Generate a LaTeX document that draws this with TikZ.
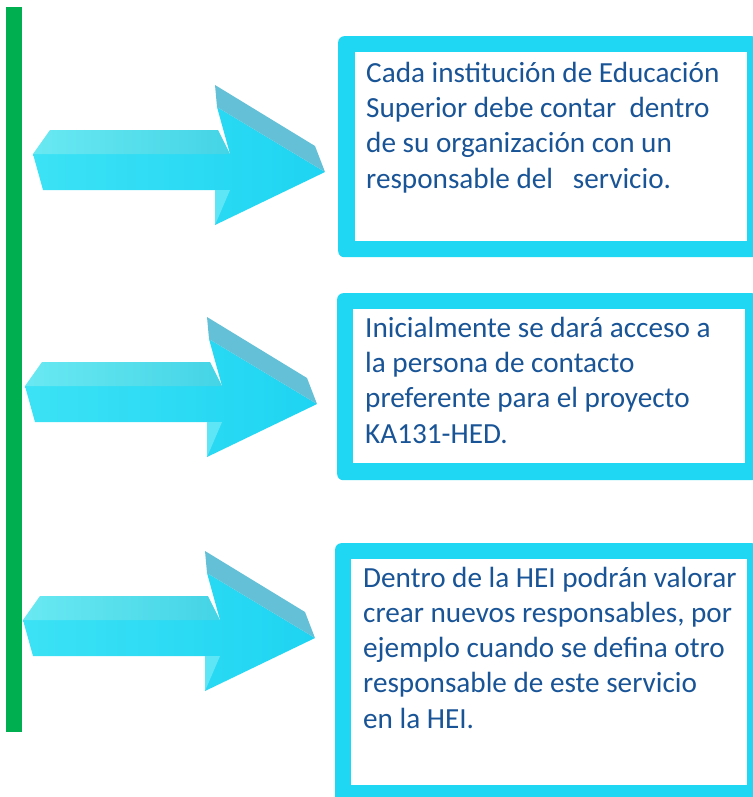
\documentclass[tikz,border=0pt]{standalone}
\usepackage{fontspec}
\setmainfont{Carlito}
\usetikzlibrary{positioning}
\definecolor{barcolor}{RGB}{0,176,80}
\definecolor{boxcolor}{RGB}{31,214,243}
\definecolor{notecolor}{RGB}{25,84,150}
\definecolor{frontlight}{RGB}{60,226,245}
\definecolor{frontdark}{RGB}{30,212,242}
\definecolor{toplight}{RGB}{105,233,242}
\definecolor{topdark}{RGB}{68,212,230}
\definecolor{headtop}{RGB}{100,192,214}
\definecolor{notchcolor}{RGB}{95,230,246}

% 3D arrow, #1/#2 = left tip
\newcommand{\fatarrow}[2]{%
  \begin{scope}[shift={(#1,#2)}]
    \shade[left color=frontlight, right color=frontdark]
      (0,0) -- (197,0) -- (184,-47) -- (292,18) -- (182,71) -- (182,36) -- (10,36) -- cycle;
    \shade[left color=toplight, right color=topdark]
      (0,0) -- (17,-24) -- (185,-24) -- (197,0) -- cycle;
    \fill[headtop] (182,-69) -- (282,-8) -- (292,18) -- (184,-47) -- cycle;
    \fill[notchcolor] (182,36) -- (197,36) -- (182,71) -- cycle;
  \end{scope}}

\begin{document}
\begin{tikzpicture}[
    x=1pt, y=-1pt,
    panel/.style={fill=boxcolor, rounded corners=6pt, anchor=north west, inner sep=0pt},
    inside/.style={fill=white, anchor=north west, inner sep=0pt},
    note/.style={anchor=base west, align=left, inner sep=0pt, text=notecolor,
      font=\fontsize{29.2}{35.2}\selectfont}
]
    \useasboundingbox (0,0) rectangle (752,797);

    % Bar
    \fill[barcolor] (6,7) rectangle (22,732);

    % Arrows
    \fatarrow{33}{154}
    \fatarrow{25}{386}
    \fatarrow{23}{620}

    % Boxes (text placed at its last baseline)
    \node[panel, minimum width=420pt, minimum height=221pt] (b1) at (338,36) {};
    \node[inside, minimum width=392pt, minimum height=189pt] (w1) at (355,52) {};
    \node[note] (t1) at (366,188) {Cada institución de Educación\\Superior debe contar\ \ dentro\\de su organización con un\\responsable del\ \ \ servicio.};

    \node[panel, minimum width=421pt, minimum height=187pt] (b2) at (337,293) {};
    \node[inside, minimum width=392pt, minimum height=154pt] (w2) at (353,309) {};
    \node[note] (t2) at (365,443) {Inicialmente se dará acceso a\\la persona de contacto\\preferente para el proyecto\\KA131-HED.};

    \node[panel, minimum width=423pt, minimum height=270pt] (b3) at (335,543) {};
    \node[inside, minimum width=396pt, minimum height=226pt] (w3) at (351,559) {};
    \node[note] (t3) at (363,728) {Dentro de la HEI podrán valorar\\crear nuevos responsables, por\\ejemplo cuando se defina otro\\responsable de este servicio\\en la HEI.};
\end{tikzpicture}
\end{document}
